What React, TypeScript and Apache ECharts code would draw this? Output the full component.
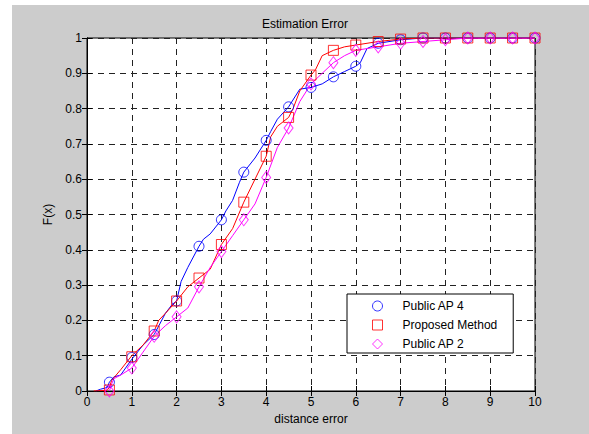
import React, { useEffect, useRef } from "react";
import * as echarts from "echarts";

// Marker positions (every 0.5 on the x axis)
const markerX = [0.5, 1, 1.5, 2, 2.5, 3, 3.5, 4, 4.5, 5, 5.5, 6, 6.5, 7, 7.5, 8, 8.5, 9, 9.5, 10];
const ap4Markers = [0.025, 0.095, 0.16, 0.255, 0.41, 0.485, 0.62, 0.71, 0.805, 0.86, 0.89, 0.92, 0.985, 0.995, 1, 1, 1, 1, 1, 1];
const proposedMarkers = [0.003, 0.097, 0.17, 0.255, 0.32, 0.415, 0.535, 0.665, 0.775, 0.895, 0.965, 0.98, 0.99, 0.997, 1, 1, 1, 1, 1, 1];
const ap2Markers = [0, 0.065, 0.155, 0.21, 0.295, 0.395, 0.485, 0.605, 0.745, 0.87, 0.93, 0.965, 0.975, 0.985, 0.99, 0.995, 1, 1, 1, 1];

// Curve samples (x, F(x))
const ap4Curve: [number, number][] = [
  [0.2, 0], [0.3, 0.005], [0.45, 0.01], [0.5, 0.025], [0.6, 0.04], [0.75, 0.045], [1.0, 0.09],
  [1.25, 0.13], [1.5, 0.16], [1.75, 0.22], [1.9, 0.245], [2.0, 0.255], [2.1, 0.31], [2.25, 0.35],
  [2.5, 0.41], [2.6, 0.43], [2.75, 0.445], [3.0, 0.485], [3.1, 0.51], [3.25, 0.54], [3.4, 0.59],
  [3.5, 0.62], [3.75, 0.66], [4.0, 0.71], [4.1, 0.735], [4.25, 0.77], [4.5, 0.805], [4.75, 0.855],
  [5.0, 0.86], [5.25, 0.87], [5.5, 0.89], [5.75, 0.905], [6.0, 0.92], [6.1, 0.93], [6.25, 0.97],
  [6.5, 0.985], [7.0, 0.995], [7.5, 1], [10, 1],
];
const proposedCurve: [number, number][] = [
  [0.15, 0], [0.45, 0.002], [0.5, 0.01], [0.55, 0.03], [0.75, 0.06], [1.0, 0.1], [1.25, 0.13],
  [1.5, 0.17], [1.6, 0.2], [1.75, 0.22], [2.0, 0.255], [2.25, 0.295], [2.5, 0.32], [2.75, 0.345],
  [3.0, 0.415], [3.25, 0.46], [3.5, 0.535], [3.75, 0.6], [4.0, 0.665], [4.1, 0.72], [4.25, 0.75],
  [4.5, 0.775], [4.6, 0.8], [4.75, 0.85], [5.0, 0.895], [5.1, 0.91], [5.25, 0.95], [5.5, 0.965],
  [5.75, 0.975], [6.0, 0.98], [6.5, 0.99], [7.0, 0.997], [7.5, 1], [10, 1],
];
const ap2Curve: [number, number][] = [
  [0.5, 0], [0.55, 0.02], [0.6, 0.035], [0.75, 0.045], [1.0, 0.065], [1.25, 0.11], [1.5, 0.155],
  [1.75, 0.185], [2.0, 0.21], [2.25, 0.235], [2.5, 0.295], [2.75, 0.35], [3.0, 0.395], [3.25, 0.44],
  [3.5, 0.485], [3.75, 0.53], [4.0, 0.605], [4.25, 0.69], [4.5, 0.745], [4.75, 0.82], [4.9, 0.85],
  [5.0, 0.87], [5.25, 0.9], [5.5, 0.93], [5.75, 0.95], [6.0, 0.965], [6.5, 0.975], [7.0, 0.985],
  [7.5, 0.99], [8.0, 0.995], [8.5, 1], [10, 1],
];

const seriesNames = ["Public AP 4", "Proposed Method", "Public AP 2"];
const seriesColors = ["#0000ff", "#ff0000", "#ff00ff"];
const FONT = "'Liberation Sans', Arial, Helvetica, sans-serif";

export default function App() {
  const ref = useRef<HTMLDivElement>(null);
  useEffect(() => {
    document.body.style.margin = "0";
    const chart = echarts.init(ref.current!, undefined, { renderer: "svg" });
    const zip = (ys: number[]) => markerX.map((x, i) => [x, ys[i]]);
    const curves = [ap4Curve, proposedCurve, ap2Curve];
    const markers = [ap4Markers, proposedMarkers, ap2Markers];
    const symbols = ["circle", "rect", "diamond"];
    const sizes: any[] = [10, 10, [9, 12]];
    const lineSeries = curves.map((c, i) => ({
      name: seriesNames[i] + " curve",
      type: "line",
      data: c,
      showSymbol: false,
      symbol: "none",
      silent: true,
      lineStyle: { color: seriesColors[i], width: 1 },
      z: 2,
    }));
    const markerSeries = markers.map((m, i) => ({
      name: seriesNames[i],
      type: "scatter",
      data: zip(m),
      symbol: symbols[i],
      symbolSize: sizes[i],
      silent: true,
      itemStyle: { color: "rgba(0,0,0,0)", borderColor: seriesColors[i], borderWidth: 1 },
      z: 3,
    }));
    const axisText = { color: "#000", fontSize: 12, fontFamily: FONT };
    chart.setOption({
      animation: false,
      backgroundColor: "#cccccc",
      textStyle: { fontFamily: FONT },
      title: {
        text: "Estimation Error",
        left: 250,
        top: 13,
        padding: 0,
        textStyle: { fontSize: 12, fontWeight: "normal", color: "#000", fontFamily: FONT },
      },
      legend: {
        data: seriesNames,
        orient: "vertical",
        left: 335,
        top: 289,
        itemWidth: 10,
        itemHeight: 10,
        itemGap: 7,
        padding: [6, 16, 3, 25],
        backgroundColor: "#ffffff",
        borderColor: "#000000",
        borderWidth: 1,
        borderRadius: 0,
        itemStyle: { borderWidth: 1 },
        textStyle: { fontSize: 12, color: "#000", fontFamily: FONT, padding: [0, 0, 0, 15] },
        selectedMode: false,
      },
      grid: {
        left: 75,
        top: 33,
        width: 448,
        height: 353,
        show: true,
        backgroundColor: "#ffffff",
        borderColor: "#000000",
        borderWidth: 1,
      },
      xAxis: [
        {
          type: "value",
          min: 0,
          max: 10,
          interval: 1,
          name: "distance error",
          nameLocation: "middle",
          nameGap: 22,
          nameTextStyle: axisText,
          axisLine: { show: true, lineStyle: { color: "#000" } },
          axisTick: { show: true, inside: true, length: 5, lineStyle: { color: "#000" } },
          axisLabel: { ...axisText, margin: 5 },
          splitLine: { show: true, lineStyle: { color: "#222", type: [6, 5], width: 1 } },
        },
        {
          type: "value",
          position: "top",
          min: 0,
          max: 10,
          interval: 1,
          axisLine: { show: true, lineStyle: { color: "#000" } },
          axisTick: { show: true, inside: true, length: 5, lineStyle: { color: "#000" } },
          axisLabel: { show: false },
          splitLine: { show: false },
        },
      ],
      yAxis: [
        {
          type: "value",
          min: 0,
          max: 1,
          interval: 0.1,
          name: "F(x)",
          nameLocation: "middle",
          nameGap: 28,
          nameTextStyle: axisText,
          axisLine: { show: true, lineStyle: { color: "#000" } },
          axisTick: { show: true, inside: true, length: 5, lineStyle: { color: "#000" } },
          axisLabel: {
            ...axisText,
            margin: 5,
            formatter: (v: number) => String(Math.round(v * 10) / 10),
          },
          splitLine: { show: true, lineStyle: { color: "#222", type: [6, 5], width: 1 } },
        },
        {
          type: "value",
          position: "right",
          min: 0,
          max: 1,
          interval: 0.1,
          axisLine: { show: true, lineStyle: { color: "#000" } },
          axisTick: { show: true, inside: true, length: 5, lineStyle: { color: "#000" } },
          axisLabel: { show: false },
          splitLine: { show: false },
        },
      ],
      series: [...lineSeries, ...markerSeries],
    });
    return () => chart.dispose();
  }, []);
  return (
    <div style={{ position: "absolute", left: 0, top: 0, width: 589, height: 434, background: "#fff" }}>
      <div ref={ref} style={{ position: "absolute", left: 12, top: 5, width: 577, height: 429 }} />
    </div>
  );
}
